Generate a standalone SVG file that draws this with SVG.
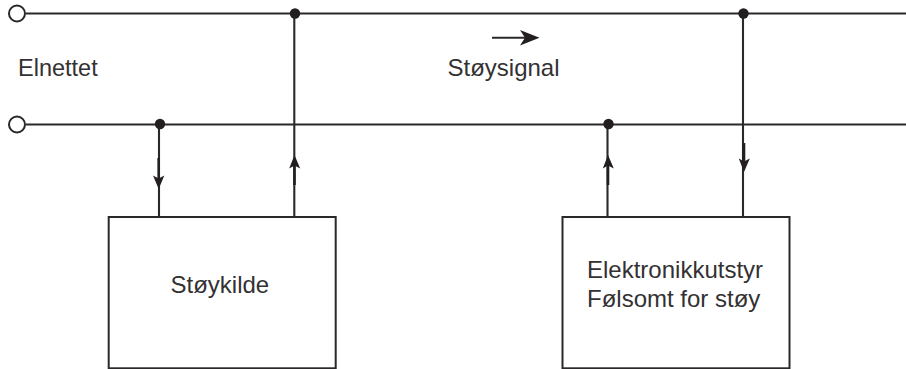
<svg xmlns="http://www.w3.org/2000/svg" width="906" height="369" viewBox="0 0 906 369">
<style>
.w{fill:none;stroke:#2b2829;stroke-width:2.1}
.s{fill:none;stroke:#231f20;stroke-width:2.6}
.h,.d{fill:#231f20}
.t{fill:#333132;font-family:"Liberation Sans",Arial,sans-serif;font-size:24px}
.b{fill:#fff;stroke:#2b2829;stroke-width:2}
.c{fill:#fff;stroke:#2b2829;stroke-width:2}
</style>
<rect width="906" height="369" fill="#fff"/>
<g id="connectors">
<path class="w" d="M26 13.5H906M26 124.5H906"/>
<path class="w" d="M294.3 13.5V217M159 124.5V217M607.5 124.5V217M743 13.5V217"/>
<path class="s" d="M158.7 158V180M294.5 165V185M608 165V185M744 143V165"/>
<path class="h" d="M158.7 189L153 175.5L158.7 178.5L164.3 175.5Z"/>
<path class="h" d="M294.5 155L289.2 168.5L294.5 165.5L300.2 168.5Z"/>
<path class="h" d="M608 155L602.8 168.5L608 165.5L613.8 168.5Z"/>
<path class="h" d="M744 172L738.8 158.5L744 161.5L749.8 158.5Z"/>
<path class="w" d="M492 37.8H525"/>
<path class="h" d="M539.5 37.8L520 30L525 37.8L520 45.6Z"/>
</g>
<g id="terminal-top"><circle class="c" cx="17" cy="13.5" r="8"/></g>
<g id="terminal-bottom"><circle class="c" cx="17" cy="124.5" r="8"/></g>
<g id="junction-1"><circle class="d" cx="295" cy="13.5" r="5.2"/></g>
<g id="junction-2"><circle class="d" cx="160" cy="124" r="5.2"/></g>
<g id="junction-3"><circle class="d" cx="608.5" cy="124" r="5.2"/></g>
<g id="junction-4"><circle class="d" cx="743.5" cy="13.5" r="5.2"/></g>
<g id="label-elnettet"><text class="t" x="18" y="76" style="font-size:23.5px">Elnettet</text></g>
<g id="label-stoysignal"><text class="t" x="447.5" y="76">Støysignal</text></g>
<g id="stoykilde">
<rect class="b" x="108.7" y="217" width="227" height="151.3"/>
<text class="t" x="170.5" y="293">Støykilde</text>
</g>
<g id="elektronikkutstyr">
<rect class="b" x="562.5" y="217" width="227" height="151.3"/>
<text class="t" x="587" y="278">Elektronikkutstyr</text>
<text class="t" x="587" y="307">Følsomt for støy</text>
</g>
</svg>
